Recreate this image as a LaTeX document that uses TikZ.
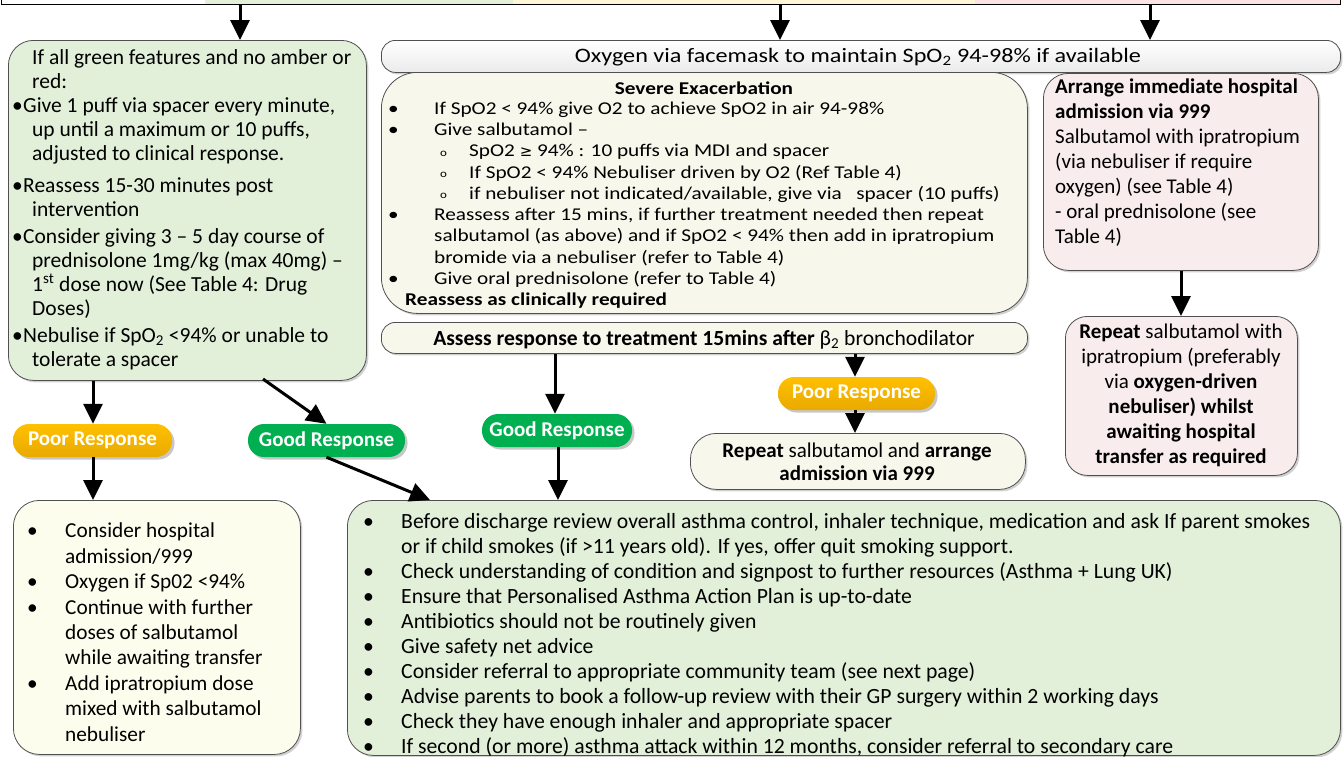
\documentclass[tikz,border=0pt]{standalone}
\usepackage{fontspec}
\setmainfont{Carlito}
\newfontfamily\wide{Carlito}[FakeStretch=1.18]
\newfontfamily\dv{DejaVu Sans}
\usetikzlibrary{arrows.meta,shadows}
\definecolor{grn}{HTML}{E2EFD9}
\definecolor{ivy}{HTML}{F7F7EC}
\definecolor{ivl}{HTML}{FDFDEE}
\definecolor{pnk}{HTML}{F8ECEC}
\definecolor{brd}{HTML}{505050}
\definecolor{gpill}{HTML}{00B050}
\definecolor{ppill}{HTML}{FFC000}
\definecolor{ppillD}{HTML}{E9A900}
\definecolor{tg}{HTML}{E4EFDA}
\definecolor{ty}{HTML}{FFF6D8}
\definecolor{tp}{HTML}{FBE4E4}
\newcommand{\bu}[1]{\makebox[#1][l]{\textbullet}}
\newcommand{\ind}[1]{\hspace*{#1}}
\newcommand{\sq}[1]{\makebox[#1][l]{\raisebox{0.5pt}{\fontsize{11}{12}\selectfont o}}}
\tikzset{
  box/.style={draw=brd, line width=0.8pt, inner sep=0pt, anchor=north west,
    drop shadow={shadow xshift=2pt, shadow yshift=-2pt, opacity=0.18, fill=black}},
  pill/.style={rounded corners=16pt, inner sep=0pt, minimum height=33pt, text=white,
    font=\bfseries\fontsize{21}{24}\selectfont,
    drop shadow={shadow xshift=2.5pt, shadow yshift=-2.5pt, opacity=0.22, fill=black}},
  arr/.style={line width=3pt, -{Triangle[width=19pt,length=20pt]}},
  txt/.style={inner sep=0pt, align=left, anchor=north west},
}
\begin{document}
\begin{tikzpicture}[x=1pt,y=-1pt]
\useasboundingbox (0,0) rectangle (1343,756);
% top strip
\fill[tg] (205,-2) rectangle (513,4);
\fill[ty] (513,-2) rectangle (975,4);
\fill[tp] (975,-2) rectangle (1340,4);
\node[draw=black, line width=1pt, inner sep=0pt, minimum width=1339pt, minimum height=30pt, anchor=north west] (top) at (1,-26) {};
\coordinate (t1) at (240,4);
\coordinate (t2) at (780,4);
\coordinate (t3) at (1150,4);

% boxes
\node[box, fill=grn, rounded corners=25pt, minimum width=358pt, minimum height=340pt] (g1) at (8,40) {};
\node[box, top color=white, bottom color=black!8, rounded corners=14pt, minimum width=959pt, minimum height=32pt] (ox) at (381,40) {};
\node[box, fill=ivy, rounded corners=36pt, minimum width=646pt, minimum height=241pt] (sv) at (381,72) {};
\node[box, fill=pnk, rounded corners=25pt, minimum width=275pt, minimum height=197pt] (pk) at (1043,73) {};
\node[box, fill=ivy, rounded corners=14pt, minimum width=646pt, minimum height=31pt] (as) at (381,322) {};
\node[box, fill=pnk, rounded corners=22pt, minimum width=232pt, minimum height=159pt] (pr) at (1065,316) {};
\node[box, fill=ivy, rounded corners=26pt, minimum width=335pt, minimum height=56pt] (rm) at (690,433) {};
\node[box, fill=ivl, rounded corners=26pt, minimum width=287pt, minimum height=254pt] (bl) at (13,500) {};
\node[box, fill=grn, rounded corners=26pt, minimum width=993pt, minimum height=255pt] (bg) at (347,500) {};

% pills
\node[pill, top color=ppill, bottom color=ppillD, minimum width=159pt] (pl) at (92.5,440.5) {Poor Response};
\node[pill, fill=gpill, minimum width=157pt] (gl) at (326.5,440.5) {Good Response};
\node[pill, fill=gpill, minimum width=150pt] (gm) at (557,430.5) {Good Response};
\node[pill, top color=ppill, bottom color=ppillD, minimum width=157pt] (pp) at (856.5,393.5) {Poor Response};

% texts
\node[txt, font=\fontsize{21.5}{24}\selectfont] (g1t) at (12,47) {%
\strut\ind{20pt}If all green features and no amber or\\
\ind{20pt}red:\\
\bu{11pt}Give 1 puff via spacer every minute,\\
\ind{20pt}up until a maximum or 10 puffs,\\
\ind{20pt}adjusted to clinical response.\\[8pt]
\bu{11pt}Reassess 15-30 minutes post\\
\ind{20pt}intervention\\[3pt]
\bu{11pt}Consider giving 3 – 5 day course of\\
\ind{20pt}prednisolone 1mg/kg (max 40mg) –\\
\ind{20pt}1\textsuperscript{st} dose now (See Table 4: Drug\\
\ind{20pt}Doses)\\[3pt]
\bu{11pt}Nebulise if SpO\textsubscript{2} <94\% or unable to\\
\ind{20pt}tolerate a spacer};

\node[anchor=base, inner sep=0pt, font=\wide\fontsize{20.5}{24}\selectfont] (oxt) at (858,62.5) {Oxygen via facemask to maintain SpO\textsubscript{2} 94-98\% if available};

\node[anchor=base, inner sep=0pt, font=\wide\bfseries\fontsize{18}{21}\selectfont] (svh) at (704,94) {Severe Exacerbation};
\node[txt, font=\wide\fontsize{18}{21.3}\selectfont] (svt) at (388,99) {%
\strut\bu{46pt}If SpO2 < 94\% give O2 to achieve SpO2 in air 94-98\%\\
\bu{46pt}Give salbutamol –\\
\ind{52pt}\sq{29pt}SpO2 {\dv\fontsize{15}{18}\selectfont ≥} 94\% : 10 puffs via MDI and spacer\\
\ind{52pt}\sq{29pt}If SpO2 < 94\% Nebuliser driven by O2 (Ref Table 4)\\
\ind{52pt}\sq{29pt}if nebuliser not indicated/available, give via \ \ spacer (10 puffs)\\
\bu{46pt}Reassess after 15 mins, if further treatment needed then repeat\\
\ind{46pt}salbutamol (as above) and if SpO2 < 94\% then add in ipratropium\\
\ind{46pt}bromide via a nebuliser (refer to Table 4)\\
\bu{46pt}Give oral prednisolone (refer to Table 4)\\
\ind{17pt}\textbf{Reassess as clinically required}};

\node[txt, font=\fontsize{21}{25}\selectfont] (pkt) at (1055,76.2) {%
\strut\textbf{Arrange immediate hospital}\\
\textbf{admission via 999}\\
Salbutamol with ipratropium\\
(via nebuliser if require\\
oxygen) (see Table 4)\\
- oral prednisolone (see\\
Table 4)};

\node[inner sep=0pt, align=center, anchor=north, font=\fontsize{21}{25}\selectfont] (prt) at (1181,321.2) {%
\strut\textbf{Repeat} salbutamol with\\
ipratropium (preferably\\
via \textbf{oxygen-driven}\\
\textbf{nebuliser) whilst}\\
\textbf{awaiting hospital}\\
\textbf{transfer as required}};

\node[anchor=base, inner sep=0pt, font=\fontsize{21.6}{24}\selectfont] (ast) at (704,345) {\textbf{Assess response to treatment 15mins after} β\textsubscript{2} bronchodilator};

\node[inner sep=0pt, align=center, anchor=north, font=\fontsize{21}{23}\selectfont] (rmt) at (857,441.6) {%
\strut\textbf{Repeat} salbutamol and \textbf{arrange}\\
\textbf{admission via 999}};

\node[txt, font=\fontsize{21.3}{25.4}\selectfont] (blt) at (27,520) {%
\strut\bu{38pt}Consider hospital\\
\ind{38pt}admission/999\\
\bu{38pt}Oxygen if Sp02 <94\%\\
\bu{38pt}Continue with further\\
\ind{38pt}doses of salbutamol\\
\ind{38pt}while awaiting transfer\\
\bu{38pt}Add ipratropium dose\\
\ind{38pt}mixed with salbutamol\\
\ind{38pt}nebuliser};

\node[txt, font=\fontsize{21.7}{25}\selectfont] (bgt) at (363,510.3) {%
\strut\bu{38pt}Before discharge review overall asthma control, inhaler technique, medication and ask If parent smokes\\
\ind{38pt}or if child smokes (if >11 years old). If yes, offer quit smoking support.\\
\bu{38pt}Check understanding of condition and signpost to further resources (Asthma + Lung UK)\\
\bu{38pt}Ensure that Personalised Asthma Action Plan is up-to-date\\
\bu{38pt}Antibiotics should not be routinely given\\
\bu{38pt}Give safety net advice\\
\bu{38pt}Consider referral to appropriate community team (see next page)\\
\bu{38pt}Advise parents to book a follow-up review with their GP surgery within 2 working days\\
\bu{38pt}Check they have enough inhaler and appropriate spacer\\
\bu{38pt}If second (or more) asthma attack within 12 months, consider referral to secondary care};

% arrows
\coordinate (c93) at (93,0);
\coordinate (d1) at (263,379);
\coordinate (b1) at (430,500);
\coordinate (c555) at (555,0);
\coordinate (c558) at (558,0);
\coordinate (c855) at (855,0);
\coordinate (c1181) at (1181,0);
\draw[arr] (t1) -- (t1 |- g1.north);
\draw[arr] (t2) -- (t2 |- ox.north);
\draw[arr] (t3) -- (t3 |- ox.north);
\draw[arr] (g1.south -| c93) -- (pl.north -| c93);
\draw[arr] (pl.south -| c93) -- (bl.north -| c93);
\draw[arr] (d1) -- (gl.north);
\draw[arr] (gl.south) -- (b1);
\draw[arr] (as.south -| c555) -- (gm.north -| c555);
\draw[arr] (gm.south -| c558) -- (bg.north -| c558);
\draw[arr] (as.south -| c855) -- (pp.north -| c855);
\draw[arr] (pp.south -| c855) -- (rm.north -| c855);
\draw[arr] (pk.south -| c1181) -- (pr.north -| c1181);
\end{tikzpicture}
\end{document}
